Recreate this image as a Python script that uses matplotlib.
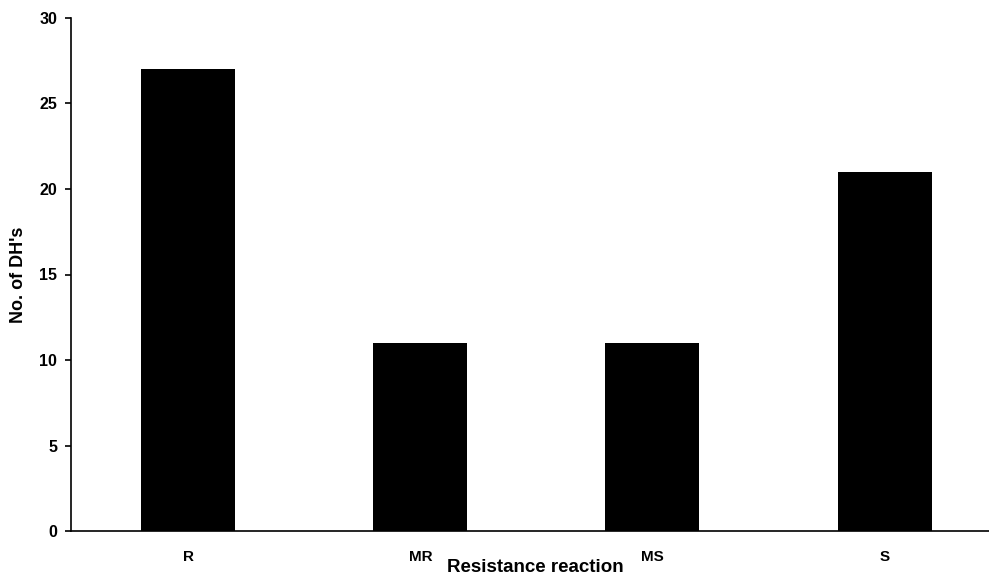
import matplotlib
matplotlib.use("Agg")
import matplotlib.pyplot as plt
import numpy as np

categories = ["R", "MR", "MS", "S"]
counts = [27, 11, 11, 21]
y_ticks = [0, 5, 10, 15, 20, 25, 30]

plt.rcParams["font.family"] = ["Liberation Sans", "DejaVu Sans"]
plt.rcParams["font.weight"] = "bold"

fig = plt.figure(figsize=(9.89, 5.76), dpi=100)
ax = fig.add_axes([71 / 989, 1 - 531 / 576, 1 - 71 / 989, (531 - 18) / 576])

x = np.arange(len(categories))
ax.bar(x, counts, width=0.405, color="black")

ax.set_xlim(-0.505, 3.45)
ax.set_ylim(0, 30)
ax.set_yticks(y_ticks)
ax.set_xticks(x, labels=categories)
ax.tick_params(axis="x", length=0, pad=14, labelsize=11)
ax.tick_params(axis="y", length=4, width=1.2, direction="out", pad=6, labelsize=11.5)
for lbl in ax.get_xticklabels() + ax.get_yticklabels():
    lbl.set_fontweight("bold")

for side in ["top", "right"]:
    ax.spines[side].set_visible(False)
for side in ["left", "bottom"]:
    ax.spines[side].set_linewidth(1.2)

ax.set_xlabel("Resistance reaction", fontsize=13.5, fontweight="bold")
ax.set_ylabel("No. of DH's", fontsize=13, fontweight="bold")
ax.xaxis.set_label_coords((535 - 71) / 918, -(568 - 531) / 513)
ax.yaxis.set_label_coords(-(71 - 19) / 918, 0.5)
ax.xaxis.label.set_va("center")
ax.yaxis.label.set_va("center")

fig.savefig("out.png", dpi=100)
